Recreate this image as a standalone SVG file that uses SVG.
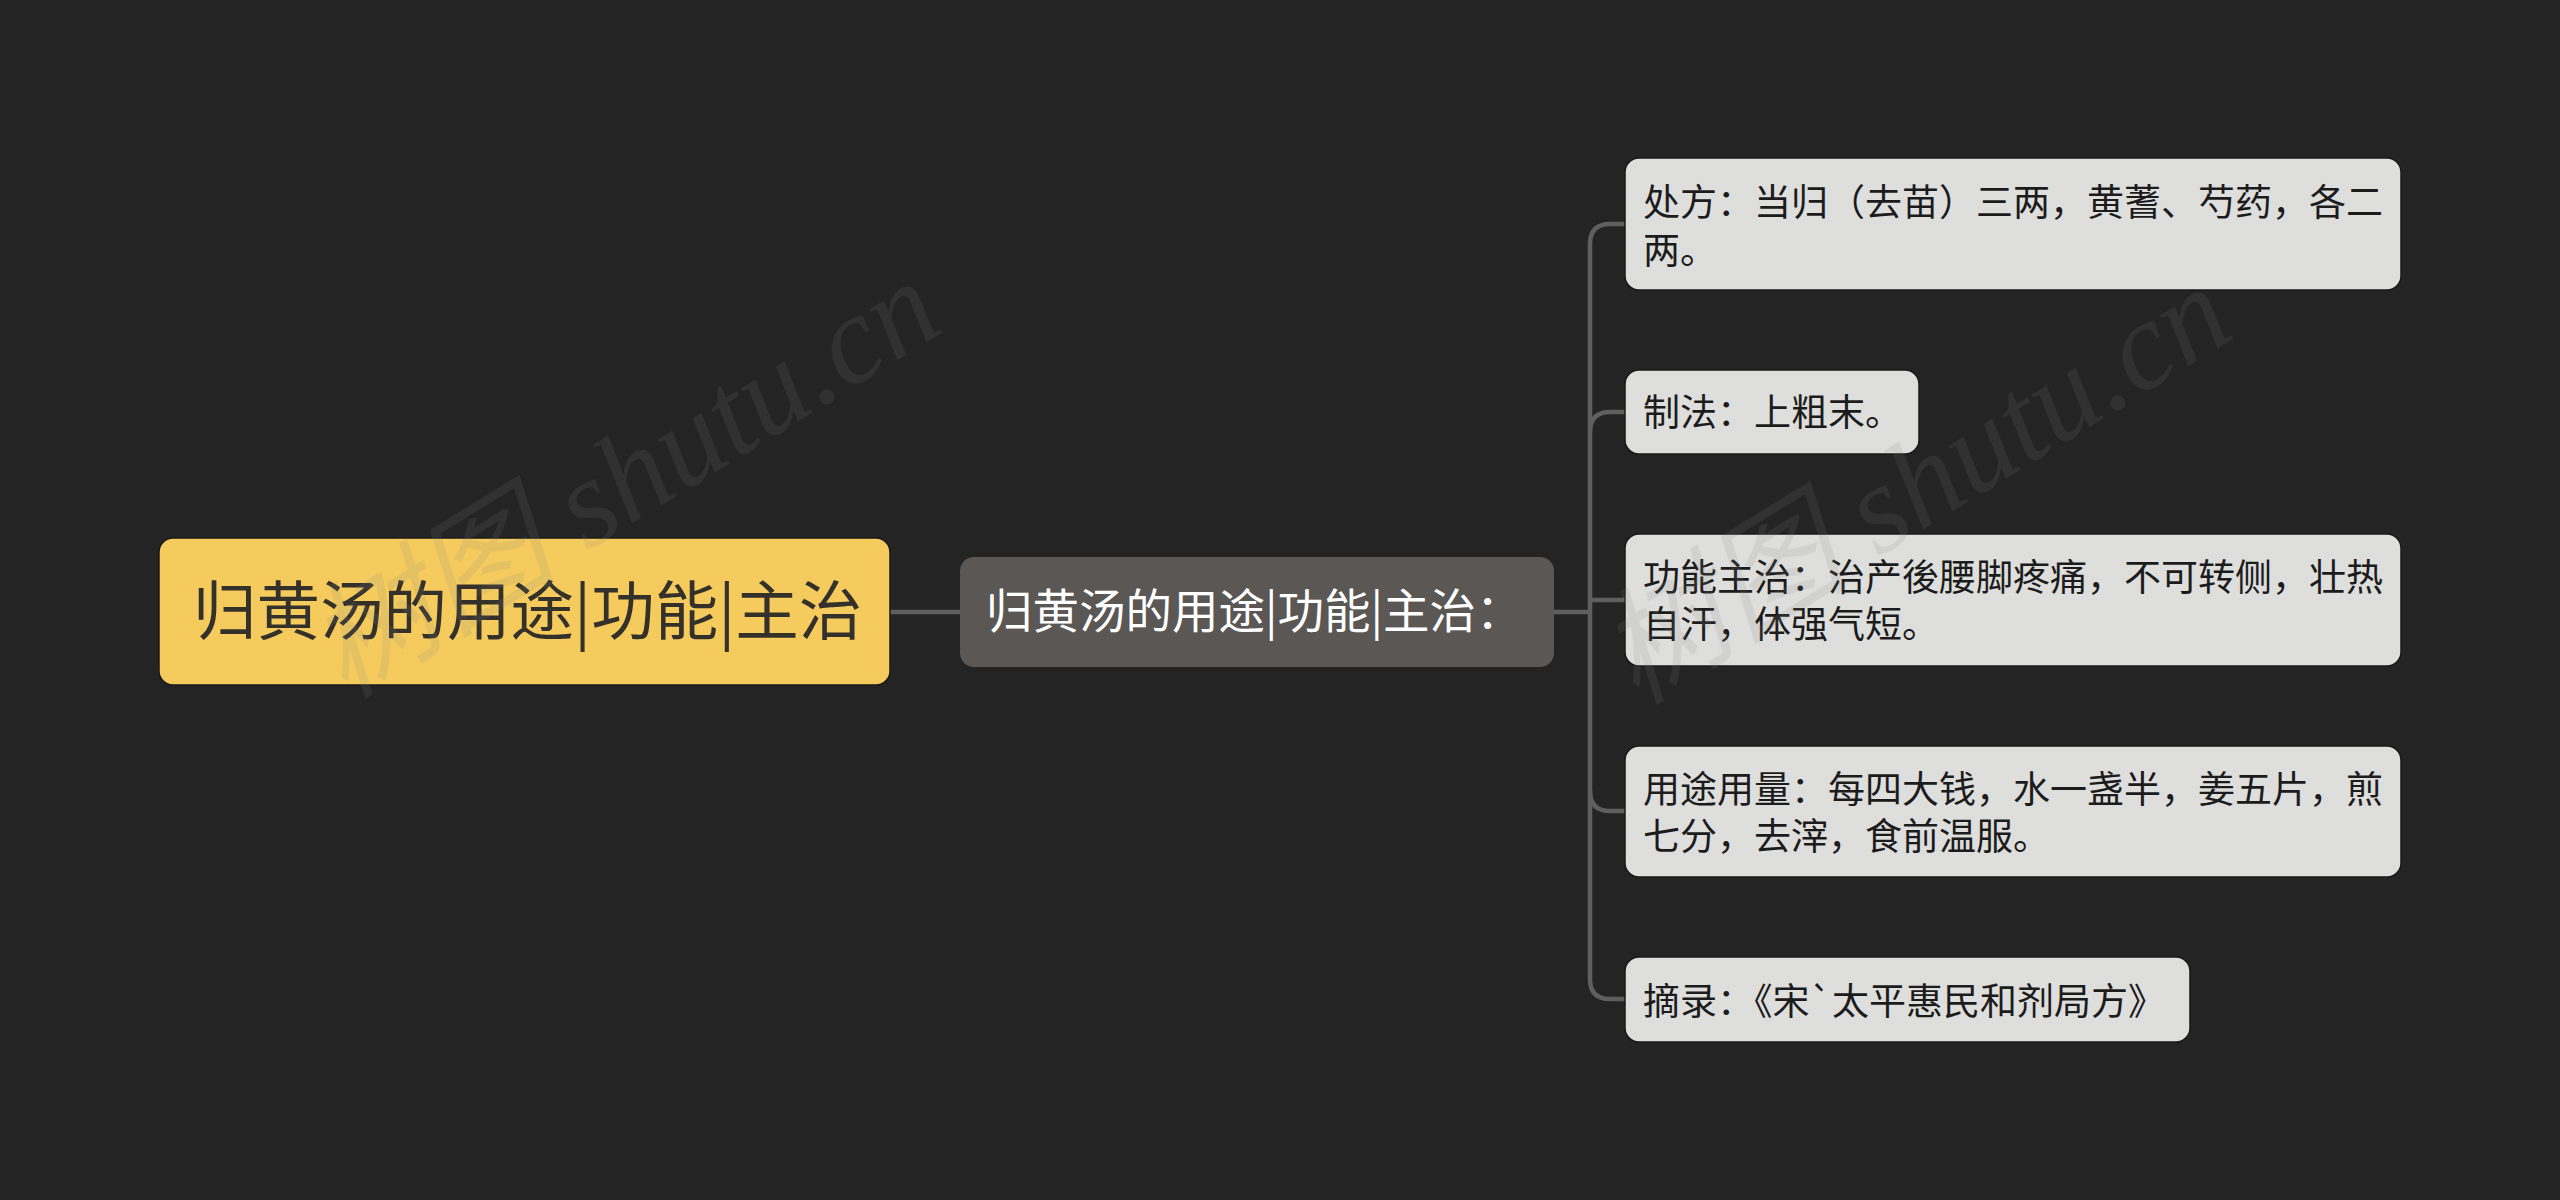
<svg xmlns="http://www.w3.org/2000/svg" width="2560" height="1200" viewBox="0 0 2560 1200">
<style>
.cjk{font-family:"Noto Sans CJK SC","Noto Sans",sans-serif}
.leaf rect{fill:#dededc;stroke:#1a1a1a;stroke-width:1.5}
.leaf text{font-size:37px;fill:#1c1c1c}
.conn{fill:none;stroke:#5f5f5f;stroke-width:4.5}
.wm{font-family:"Liberation Serif","Noto Sans CJK SC",serif;font-size:126px;font-style:italic;fill:#8a8a8a;fill-opacity:0.14}
</style>
<rect x="0" y="0" width="2560" height="1200" fill="#242424"/>
<g id="connectors">
<path class="conn" d="M890 612 H960"/>
<path class="conn" d="M1554 612 H1590"/>
<path class="conn" d="M1625 224 H1610 Q1590 224 1590 244 V979 Q1590 999 1610 999 H1625"/>
<path class="conn" d="M1590 600 H1625"/>
<path class="conn" d="M1625 811 H1610 Q1590 811 1590 791"/>
<path class="conn" d="M1625 412 H1610 Q1590 412 1590 432"/>
</g>
<g id="root">
<rect x="159" y="538" width="731" height="147" rx="14" fill="#f4cb5c" stroke="#1a1a1a" stroke-width="1.5"/>
<text class="cjk" x="193" y="634" font-size="63.5" fill="#34302a">归黄汤的用途|功能|主治</text>
</g>
<g id="mid">
<rect x="960" y="557" width="594" height="110" rx="14" fill="#5a5755"/>
<text class="cjk" x="986" y="628" font-size="46.5" fill="#ffffff">归黄汤的用途|功能|主治：</text>
</g>
<g id="n1" class="leaf">
<rect x="1625" y="158" width="776" height="132" rx="14"/>
<text class="cjk" x="1643" y="216">处方：当归（去苗）三两，黄蓍、芍药，各二</text>
<text class="cjk" x="1643" y="264">两。</text>
</g>
<g id="n2" class="leaf">
<rect x="1625" y="370" width="294" height="84" rx="14"/>
<text class="cjk" x="1643" y="426">制法：上粗末。</text>
</g>
<g id="n3" class="leaf">
<rect x="1625" y="534" width="776" height="132" rx="14"/>
<text class="cjk" x="1643" y="591">功能主治：治产後腰脚疼痛，不可转侧，壮热</text>
<text class="cjk" x="1643" y="638">自汗，体强气短。</text>
</g>
<g id="n4" class="leaf">
<rect x="1625" y="746" width="776" height="131" rx="14"/>
<text class="cjk" x="1643" y="803">用途用量：每四大钱，水一盏半，姜五片，煎</text>
<text class="cjk" x="1643" y="850">七分，去滓，食前温服。</text>
</g>
<g id="n5" class="leaf">
<rect x="1625" y="957" width="565" height="85" rx="14"/>
<text class="cjk" x="1643" y="1015">摘录：《宋`太平惠民和剂局方》</text>
</g>
<g id="watermark">
<text class="wm" transform="translate(345 700) rotate(-31.6)">树图 shutu.cn</text>
<text class="wm" transform="translate(1636 706) rotate(-31.6)">树图 shutu.cn</text>
</g>
</svg>
